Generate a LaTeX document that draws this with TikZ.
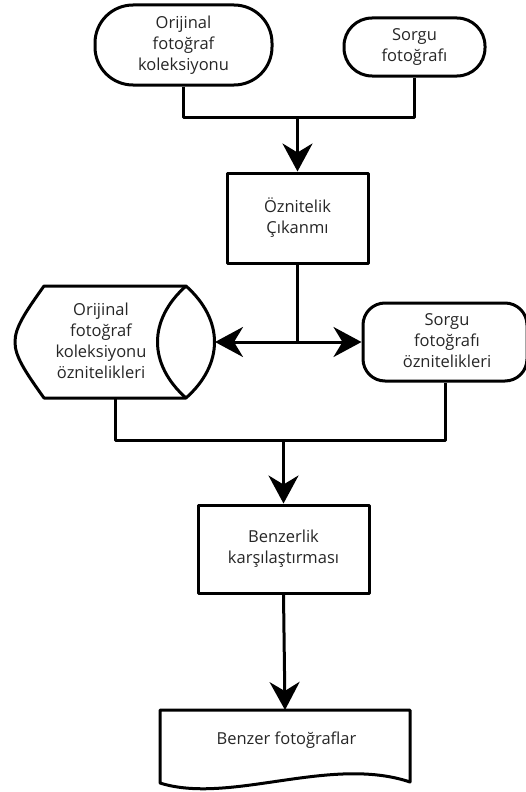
\documentclass[tikz,border=0pt]{standalone}
\usepackage{fontspec}
\setmainfont{Open Sans}
\usetikzlibrary{arrows.meta}
\begin{document}
\begin{tikzpicture}[x=1pt,y=-1pt,
  every node/.style={font=\fontsize{16.5}{21}\selectfont, text=black!85, align=center, inner sep=0pt},
  ln/.style={line width=3pt, line join=round},
  arr/.style={ln, -{Stealth[length=28pt,width=30pt,inset=9pt]}},
  term/.style={ln, draw, rectangle},
  procbox/.style={ln, draw, rectangle}]
\useasboundingbox (0,0) rectangle (525,792);
% top terminals
\node[term, rounded corners=38pt, minimum width=177pt, minimum height=80pt] (orig) at (183.5,45) {Orijinal\\fotoğraf\\koleksiyonu};
\node[term, rounded corners=28pt, minimum width=141pt, minimum height=58pt] (sorgu) at (414.5,47) {Sorgu\\fotoğrafı};
% feature extraction
\node[procbox, minimum width=141pt, minimum height=90pt] (oz) at (297.5,218) {Öznitelik\\Çıkanmı};
% stored data shape
\draw[ln] (44,286) .. controls (24,314) and (15,328) .. (15,342)
  .. controls (15,356) and (24,370) .. (44,398) -- (186,398)
  .. controls (224,364) and (224,320) .. (186,286) -- cycle;
\draw[ln] (186,286) .. controls (148,320) and (148,364) .. (186,398);
\node (store) at (101,341) {Orijinal\\fotoğraf\\koleksiyonu\\öznitelikleri};
\coordinate (storeR) at (215,342);
\coordinate (storeB) at (115,398);
% query features
\node[term, rounded corners=22pt, minimum width=164pt, minimum height=78pt] (sq) at (445,342) {};
\node at (447,341) {Sorgu\\fotoğrafı\\öznitelikleri};
% comparison
\node[procbox, minimum width=171pt, minimum height=88pt] (bz) at (283.5,549) {Benzerlik\\karşılaştırması};
% document
\coordinate (docN) at (285,710);
\draw[ln] (160,783) -- (160,710) -- (410,710) -- (410,782)
  .. controls (330,755) and (230,805) .. (160,783) -- cycle;
\node (doc) at (286.5,740) {Benzer fotoğraflar};
% junctions
\coordinate (j1) at (297.5,117);
\coordinate (j2) at (297.5,342);
\coordinate (j3) at (283.5,440);
% connectors
\draw[ln] (orig.south) |- (j1) -| (sorgu.south);
\draw[arr] (j1) -- (oz.north);
\draw[ln] (oz.south) -- (j2);
\draw[arr] (j2) -- (storeR);
\draw[arr] (j2) -- (sq.west);
\draw[ln] (storeB) |- (j3) -| (sq.south);
\draw[arr] (j3) -- (bz.north);
\draw[arr] (bz.south) -- (docN);
\end{tikzpicture}
\end{document}
